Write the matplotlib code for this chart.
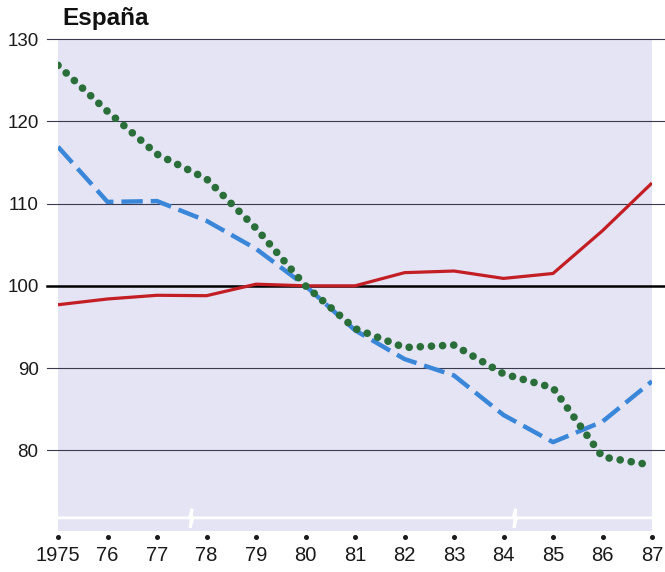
import numpy as np
import matplotlib
matplotlib.use("Agg")
import matplotlib.pyplot as plt

plt.rcParams["font.family"] = ["Liberation Sans", "DejaVu Sans"]

years = [1975, 1976, 1977, 1978, 1979, 1980, 1981, 1982, 1983, 1984, 1985, 1986, 1987]
year_labels = ["1975", "76", "77", "78", "79", "80", "81", "82", "83", "84", "85", "86", "87"]

red_solid = [97.7, 98.4, 98.85, 98.8, 100.2, 100.0, 100.0, 101.6, 101.8, 100.9, 101.5, 106.7, 112.5]
blue_dash = [116.9, 110.2, 110.3, 107.9, 104.5, 100.0, 94.6, 91.1, 89.1, 84.3, 81.0, 83.5, 88.4]
green_dot = [126.8, 121.2, 116.0, 113.0, 107.0, 100.0, 94.8, 92.5, 92.8, 89.3, 87.6, 79.2, 78.2]

grid_values = [80, 90, 110, 120, 130]
base_value = 100
break_value = 71.8
break_years = [1977.69, 1984.23]

fig = plt.figure(figsize=(6.65, 5.72), dpi=100)
ax = fig.add_axes([58 / 665, 41 / 572, 594 / 665, 492 / 572])
ax.set_facecolor("#e4e4f4")
ax.set_xlim(1975, 1987)
ax.set_ylim(70.2, 130)

for s in ax.spines.values():
    s.set_visible(False)

# horizontal rules run a bit past the shaded panel
x0, x1 = -11 / 594, 613 / 594
for v in grid_values:
    ax.axhline(v, xmin=x0, xmax=x1, color="#3a3a4e", lw=0.8, clip_on=False, zorder=1)
ax.axhline(base_value, xmin=x0, xmax=x1, color="black", lw=1.8, clip_on=False, zorder=1)

# white axis-break line with two squiggles
bx = [1975]
by = [break_value]
for b in break_years:
    bx += [b - 0.04, b + 0.02, b - 0.02, b + 0.04]
    by += [break_value, break_value + 1.1, break_value - 1.2, break_value]
bx.append(1987)
by.append(break_value)
ax.plot(bx, by, color="white", lw=2, zorder=2, solid_joinstyle="miter")

ax.plot(years, red_solid, color="#c41e25", lw=2.3, zorder=4, solid_capstyle="butt")
ax.plot(years, blue_dash, color="#3a87d9", lw=3.2, zorder=3,
        linestyle=(0, (4.8, 1.8)), dash_capstyle="butt")
ax.plot(years, green_dot, color="#2a6e3a", lw=5.5, zorder=5,
        linestyle=(0, (0.01, 1.45)), dash_capstyle="round")

ax.set_yticks([80, 90, 100, 110, 120, 130])
ax.set_yticklabels(["80", "90", "100", "110", "120", "130"])
ax.tick_params(axis="y", length=0, pad=14, labelsize=13.5, colors="#1a1a1a")

ax.set_xticks(years)
ax.set_xticklabels(year_labels)
ax.tick_params(axis="x", length=0, pad=11, labelsize=14.5, colors="#1a1a1a")

# small dots above each year label
ax.plot(years, [-0.013] * len(years), "o", color="#1a1a1a", ms=2.6,
        transform=ax.get_xaxis_transform(), clip_on=False)

fig.text(62 / 665, 1 - 19 / 572, "España", fontsize=17.5, fontweight="bold",
         ha="left", va="center", color="#111111")

fig.savefig("out.png", dpi=100, facecolor="white")
